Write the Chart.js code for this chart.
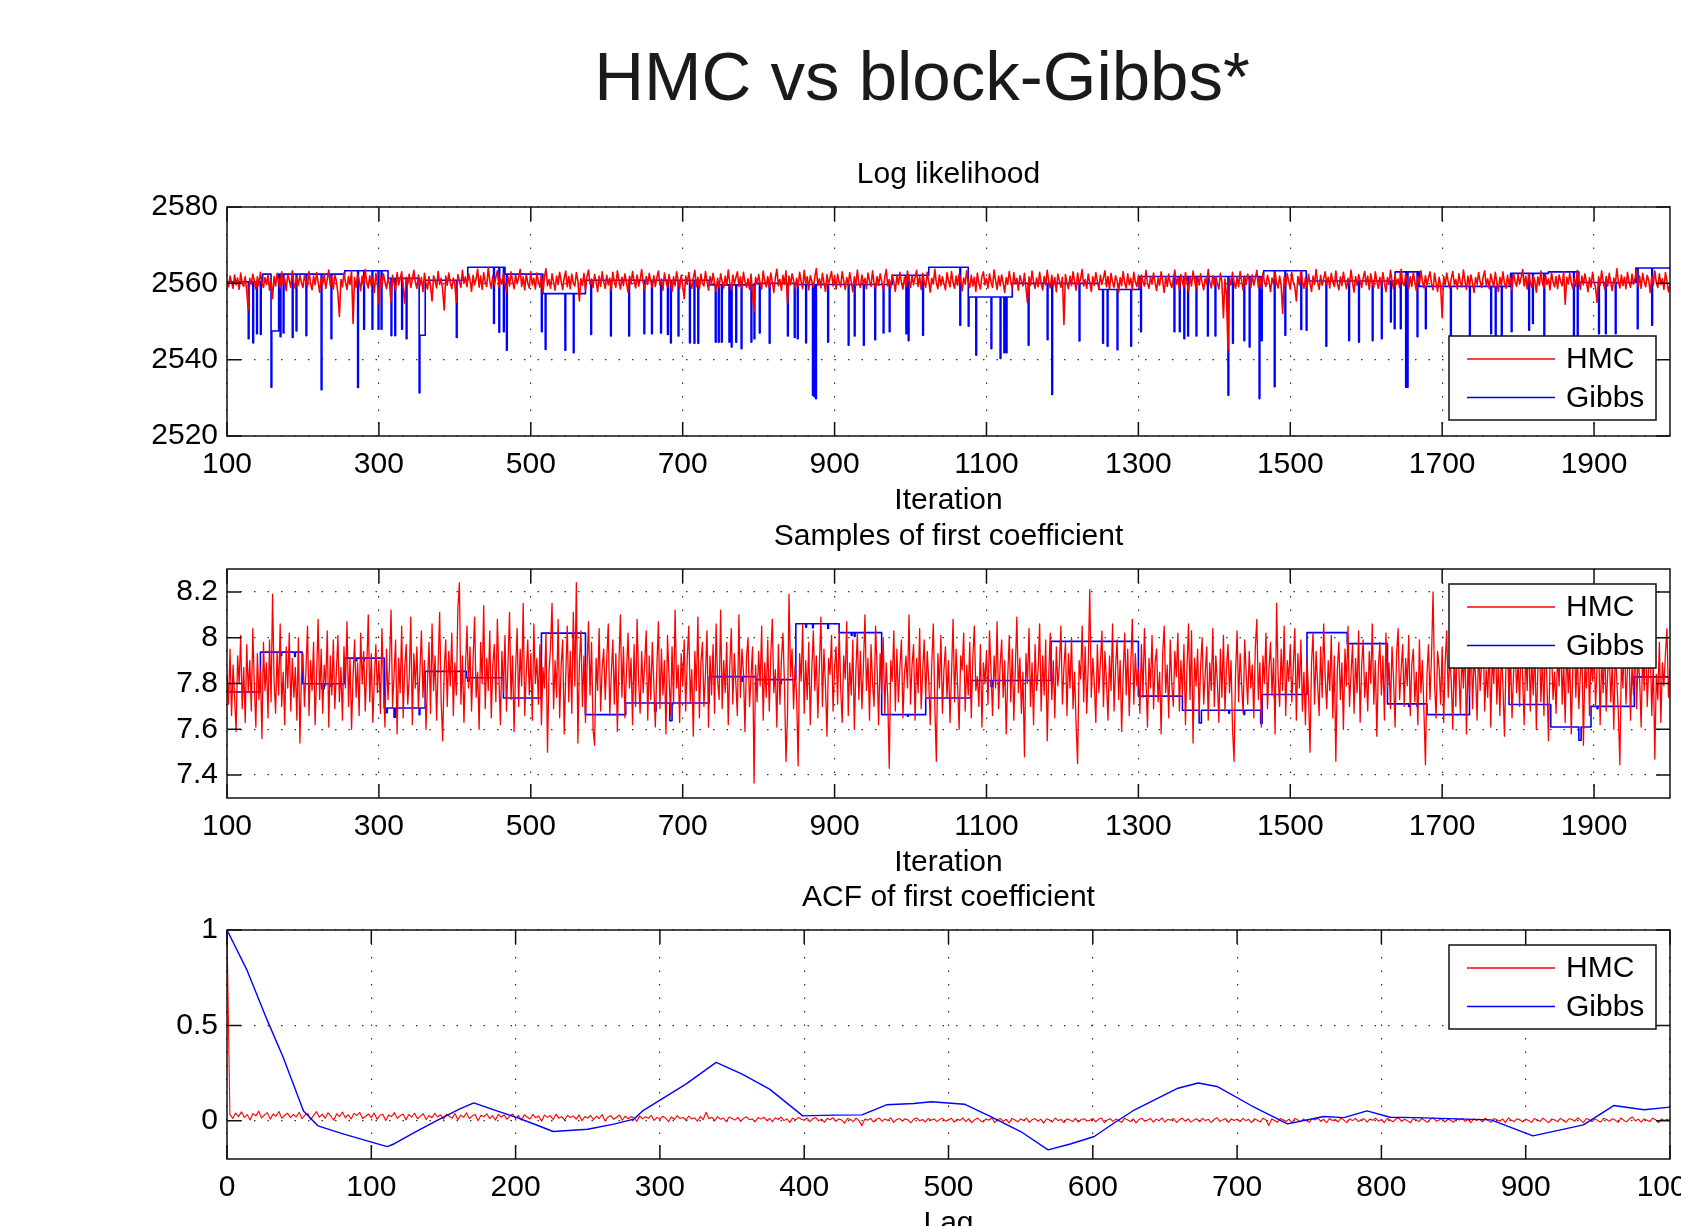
<!DOCTYPE html>
<html>
<head>
<meta charset="utf-8">
<script src="https://cdn.jsdelivr.net/npm/chart.js@4.4.1/dist/chart.umd.min.js"></script>
<style>
html,body{margin:0;padding:0;background:#fff;width:1681px;height:1226px;overflow:hidden;}
#title{position:absolute;left:922px;top:42px;transform:translateX(-50%);white-space:nowrap;font-family:'Liberation Sans',Arial,Helvetica,sans-serif;font-size:69px;line-height:69px;color:#1a1a1a;}
canvas{position:absolute;left:0;}
</style>
</head>
<body>
<div id="title">HMC vs block-Gibbs*</div>
<canvas id="c1" width="1681" height="372" style="top:147px;width:1681px;height:372px"></canvas>
<canvas id="c2" width="1681" height="372" style="top:509px;width:1681px;height:372px"></canvas>
<canvas id="c3" width="1681" height="372" style="top:870px;width:1681px;height:372px"></canvas>
<script>
// ---------------- tick labels ----------------
const iterTicks = [100, 300, 500, 700, 900, 1100, 1300, 1500, 1700, 1900];
const llTicks = [2520, 2540, 2560, 2580];
const coefTicks = [7.4, 7.6, 7.8, 8, 8.2];
const lagTicks = [0, 100, 200, 300, 400, 500, 600, 700, 800, 900, 1000];
const acfTicks = [0, 0.5, 1];

const seriesNames = ['HMC', 'Gibbs'];

// ---------------- HMC log likelihood (iterations 100..2000, every 2) ----------------
const HMC_START = 100, HMC_STEP = 2;
const llHmc = [
2560.4,2559.1,2561.9,2560.3,2558.7,2562.2,2559.6,2561.4,2558.4,2562.7,2560.0,2559.2,2561.8,2557.9,2553.0,2561.3,2559.8,2562.4,2560.6,2558.5,2561.7,2559.4,2562.9,2560.2,2558.9,
2561.5,2559.7,2562.3,2558.2,2560.9,2556.0,2561.8,2559.3,2562.6,2560.4,2558.8,2563.0,2559.9,2561.2,2558.1,2562.5,2560.7,2559.0,2563.3,2560.1,2558.6,2561.6,2559.5,2562.1,2560.3,
2558.9,2562.0,2560.5,2559.2,2563.1,2560.0,2558.3,2561.9,2559.6,2562.8,2560.2,2557.7,2561.4,2559.8,2562.4,2558.7,2561.1,2563.5,2559.4,2561.7,2558.5,2562.2,2560.6,2557.4,2551.3,
2561.0,2559.1,2562.7,2560.3,2558.4,2561.8,2559.7,2563.2,2549.5,2561.5,2559.0,2562.3,2560.8,2558.1,2561.9,2559.5,2563.6,2560.2,2558.8,2562.0,2559.3,2561.4,2557.6,2562.6,2560.1,
2554.5,2561.7,2559.2,2562.5,2560.4,2558.6,2561.3,2559.9,2555.0,2562.1,2560.0,2558.3,2562.8,2559.6,2561.2,2563.0,2559.1,2554.8,2561.6,2559.8,2562.4,2558.9,2561.0,2563.4,2560.3,
2558.7,2562.2,2559.4,2561.5,2557.8,2562.6,2560.1,2558.5,2561.8,2559.3,2555.4,2562.0,2560.6,2558.8,2563.1,2559.7,2561.3,2558.2,2553.0,2561.9,2559.5,2562.7,2560.2,2558.6,2561.4,
2559.8,2555.0,2562.3,2560.5,2558.9,2563.4,2560.0,2561.7,2559.1,2562.5,2560.8,2557.9,2562.1,2559.6,2561.2,2563.7,2559.0,2561.9,2558.4,2562.8,2560.3,2559.2,2564.1,2560.6,2558.7,
2562.0,2559.5,2561.6,2563.3,2558.9,2561.1,2559.8,2562.6,2560.2,2557.6,2561.8,2559.3,2563.0,2560.5,2558.6,2562.3,2559.9,2561.4,2563.6,2559.2,2561.7,2558.3,2562.4,2560.1,2558.8,
2563.1,2559.6,2561.3,2558.5,2562.7,2560.4,2559.0,2562.2,2557.5,2561.6,2563.8,2559.4,2561.0,2558.7,2562.5,2560.3,2558.2,2561.9,2559.7,2562.9,2560.6,2558.4,2561.5,2563.2,2559.1,
2561.8,2558.6,2562.4,2560.0,2559.3,2562.8,2560.7,2555.4,2561.2,2559.5,2562.6,2558.3,2561.7,2563.5,2559.8,2561.1,2558.9,2562.3,2560.5,2557.8,2561.9,2559.2,2563.0,2560.4,2558.7,
2562.1,2559.6,2561.4,2558.1,2562.9,2560.3,2559.0,2563.3,2560.8,2558.5,2561.6,2559.4,2562.5,2560.1,2557.7,2561.9,2559.8,2563.1,2560.6,2558.8,2562.2,2559.3,2561.0,2563.6,2560.2,
2558.4,2561.8,2559.7,2562.6,2560.4,2558.9,2562.0,2559.2,2561.5,2563.2,2559.6,2561.1,2558.2,2562.7,2560.5,2559.0,2562.3,2560.0,2557.9,2561.7,2559.4,2563.0,2560.7,2558.6,2562.1,
2559.5,2556.0,2561.9,2559.8,2562.8,2560.3,2558.7,2561.4,2563.4,2559.1,2561.6,2558.5,2562.4,2560.0,2559.3,2563.1,2560.6,2558.2,2561.8,2559.7,2562.6,2560.2,2557.8,2561.3,2559.0,
2562.5,2560.4,2558.8,2561.9,2559.5,2563.5,2560.1,2558.3,2562.2,2559.9,2561.5,2563.0,2559.2,2561.7,2558.6,2562.9,2560.5,2559.0,2561.2,2558.4,2562.4,2556.9,2552.6,2561.6,2559.8,
2562.3,2560.0,2558.5,2563.2,2560.6,2559.1,2561.8,2558.9,2562.7,2560.3,2557.6,2561.5,2563.7,2559.4,2561.0,2558.2,2562.1,2559.7,2563.3,2554.8,2561.9,2559.6,2562.5,2560.8,2558.7,
2561.3,2559.2,2562.9,2560.4,2558.6,2563.4,2559.9,2561.7,2558.3,2562.0,2560.5,2559.0,2561.6,2563.9,2559.5,2561.2,2558.8,2562.6,2560.1,2557.9,2562.3,2559.8,2561.4,2563.1,2559.3,
2561.9,2558.5,2562.4,2560.2,2559.1,2563.0,2560.7,2558.4,2561.5,2559.6,2562.8,2560.3,2557.8,2561.7,2559.4,2563.5,2560.0,2558.9,2562.2,2559.7,2561.3,2558.6,2562.7,2560.5,2559.2,
2563.3,2560.1,2558.7,2561.8,2559.5,2562.5,2560.6,2558.2,2561.4,2563.6,2559.3,2561.0,2558.8,2562.3,2560.4,2557.9,2561.9,2559.7,2562.9,2560.2,2558.5,2561.6,2559.1,2563.2,2560.8,
2558.9,2562.0,2559.6,2561.5,2563.4,2559.2,2561.8,2558.4,2562.6,2560.3,2559.0,2562.9,2560.5,2557.7,2561.3,2559.8,2563.7,2560.1,2558.6,2562.2,2559.4,2561.7,2560.0,2558.3,2562.8,
2560.6,2559.1,2563.1,2560.2,2558.7,2561.9,2559.5,2562.4,2560.9,2558.1,2561.4,2559.8,2563.3,2560.4,2558.9,2562.1,2559.3,2561.6,2557.9,2562.7,2560.0,2558.5,2561.8,2563.0,2559.6,
2561.2,2558.8,2562.5,2560.3,2559.0,2563.5,2560.7,2558.4,2561.9,2559.4,2562.2,2560.1,2557.6,2561.5,2559.7,2563.1,2560.5,2558.6,2562.8,2559.9,2561.3,2558.2,2562.0,2560.6,2559.3,
2562.6,2558.9,2554.9,2561.7,2559.5,2563.2,2560.3,2558.7,2561.4,2559.1,2562.9,2560.0,2558.3,2561.8,2559.6,2563.4,2560.4,2558.8,2562.1,2559.2,2561.5,2557.8,2562.4,2560.7,2559.0,
2561.6,2549.2,2562.3,2560.1,2558.6,2561.9,2559.4,2563.0,2560.5,2558.2,2562.7,2559.8,2561.2,2563.6,2559.3,2561.0,2558.7,2562.4,2560.2,2557.9,2561.7,2559.5,2562.8,2560.6,2558.4,
2562.1,2559.7,2561.4,2563.3,2559.1,2561.8,2558.5,2562.6,2560.3,2559.0,2562.0,2560.7,2557.7,2561.5,2559.4,2563.1,2560.0,2558.8,2562.5,2559.6,2561.3,2558.3,2562.9,2560.4,2559.2,
2561.9,2558.6,2562.2,2560.5,2559.3,2563.4,2560.1,2558.7,2561.6,2559.8,2562.7,2560.2,2558.1,2561.4,2559.5,2563.0,2560.6,2557.6,2561.8,2559.2,2562.4,2560.0,2558.9,2561.2,2563.5,
2559.7,2561.5,2558.4,2562.3,2560.2,2559.0,2562.8,2560.4,2557.9,2561.7,2559.3,2563.2,2560.7,2558.6,2561.9,2559.6,2562.5,2560.1,2558.3,2561.3,2559.8,2563.6,2560.3,2558.8,2562.0,
2559.4,2561.8,2560.0,2558.5,2562.6,2560.4,2551.0,2561.2,2556.8,2542.5,2561.5,2559.6,2562.9,2560.2,2558.7,2561.7,2559.1,2563.1,2560.5,2558.2,2561.9,2559.7,2562.4,2560.8,2558.9,
2562.2,2559.5,2561.3,2563.4,2559.0,2561.6,2558.6,2562.7,2560.3,2559.2,2562.1,2560.6,2557.8,2561.4,2559.8,2563.0,2560.1,2558.8,2561.9,2559.4,2552.1,2561.7,2559.3,2562.5,2560.4,
2558.5,2562.8,2560.2,2559.1,2555.4,2561.8,2559.6,2563.3,2560.5,2558.7,2561.5,2559.0,2562.4,2560.0,2557.9,2561.9,2559.7,2563.6,2560.3,2558.4,2562.1,2559.5,2561.2,2563.0,2559.8,
2561.6,2558.8,2562.6,2560.4,2559.2,2563.2,2560.0,2558.3,2561.7,2559.4,2562.9,2560.6,2558.6,2561.3,2559.9,2563.5,2560.2,2557.7,2561.8,2559.5,2562.3,2560.7,2558.9,2561.4,2563.1,
2559.6,2561.9,2558.4,2562.5,2560.3,2559.0,2563.0,2560.5,2558.7,2561.6,2559.3,2562.8,2560.1,2557.8,2561.5,2559.7,2563.4,2560.4,2558.5,2562.2,2559.8,2561.1,2558.9,2563.7,2560.2,
2559.4,2562.4,2560.8,2558.6,2561.7,2559.2,2562.9,2560.3,2558.1,2561.8,2559.6,2563.3,2560.6,2558.8,2562.0,2559.5,2561.4,2563.0,2559.9,2558.3,2562.6,2560.1,2557.9,2561.6,2559.3,
2551.0,2561.8,2559.6,2562.7,2560.4,2558.7,2561.3,2563.1,2559.7,2561.0,2558.5,2562.5,2560.2,2559.1,2563.5,2560.6,2558.4,2561.9,2559.3,2562.2,2560.0,2557.6,2561.5,2559.8,2562.8,
2560.4,2558.9,2561.7,2563.3,2559.5,2561.2,2558.6,2562.4,2560.7,2559.0,2562.9,2560.3,2557.9,2561.6,2559.4,2563.0,2560.1,2558.7,2562.1,2559.6,2561.4,2558.2,2562.7,2560.5,2559.2,
2562.3,2559.8,2561.5,2563.6,2559.3,2561.9,2558.5,2562.6,2560.2,2559.0,2562.0,2560.6,2557.7,2561.7,2559.5,2563.2,2560.0,2558.8,2562.4,2559.7,2561.1,2558.3,2562.8,2560.4,2559.1,
2561.8,2558.6,2562.2,2560.5,2559.4,2563.1,2554.5,2561.6,2559.8,2562.7,2560.1,2558.7,2561.3,2559.2,2563.4,2560.6,2558.4,2561.9,2559.6,2562.5,2560.3,2557.8,2561.5,2559.0,2562.9,
2560.2,2558.9,2555.0,2561.7,2559.5,2563.3,2560.4,2558.5,2561.8,2559.3,2562.6,2560.0,2558.1,2561.4,2559.7,2563.8,2560.5,2558.8,2562.2,2559.4,2561.6,2558.6,2562.9,2560.3,2559.0,
2562.4,2559.8,2561.3,2563.6,2559.2,2561.9,2558.7,2562.6,2560.4,2559.1,2562.1,2560.7,2557.6,2561.7,2559.5,2563.2,2560.2,2558.9,2562.5,2559.7,2561.2,2558.4,2562.8,2560.6,2557.8,
2559.6
];

// ---------------- Gibbs log likelihood: held levels [iteration, value] and one-step drops ----------------
const gibbsLLLevels = [
[100,2560.4],[147,2562.4],[159,2547.5],[168,2562.4],[255,2563.3],[312,2561.3],[354,2546.4],[361,2560.8],
[417,2564.2],[466,2562.4],[516,2557.3],[572,2560.8],[735,2559.6],[795,2560.0],[850,2559.7],[976,2562.1],
[1024,2564.2],[1077,2556.4],[1134,2560.0],[1248,2558.4],[1301,2561.8],[1465,2563.3],[1522,2560.6],
[1638,2563.0],[1670,2559.2],[1790,2562.6],[1840,2563.0],[1880,2560.2],[1955,2564.0],[2000,2564.0]
];
const gibbsLLDrops = [
[128,2545.5],[134,2544.4],[139,2546.8],[144,2546.6],[158,2532.8],[170,2546.0],[174,2547.0],[186,2545.8],[191,2547.5],
[204,2546.3],[224,2532.1],[237,2545.5],[272,2532.7],[280,2548.0],[291,2548.0],[299,2548.0],[303,2548.0],[316,2546.3],
[321,2546.3],[330,2548.0],[336,2545.5],[353,2531.3],[402,2545.8],[451,2549.5],[458,2547.2],[464,2547.3],[468,2542.5],
[514,2547.3],[519,2542.7],[545,2542.5],[556,2541.8],[579,2546.6],[605,2546.2],[629,2546.2],[649,2546.8],[659,2546.8],
[671,2547.0],[680,2546.6],[684,2544.4],[694,2546.2],[709,2544.4],[715,2544.3],[720,2544.3],[743,2544.6],[747,2544.6],
[751,2544.6],[761,2544.6],[764,2543.3],[770,2544.6],[777,2542.9],[790,2544.6],[794,2545.5],[801,2547.0],[814,2544.3],
[838,2546.2],[847,2545.8],[851,2545.5],[862,2544.4],[871,2530.7],[873,2530.3],[875,2529.8],[891,2544.6],[918,2543.8],
[926,2546.2],[938,2543.8],[953,2545.2],[964,2547.0],[972,2547.3],[994,2546.8],[997,2545.0],[1016,2546.4],[1065,2549.0],
[1076,2548.8],[1086,2541.2],[1106,2542.9],[1118,2540.3],[1123,2541.8],[1126,2541.8],[1155,2543.8],[1180,2545.2],
[1186,2530.9],[1222,2544.9],[1253,2544.3],[1259,2543.5],[1272,2542.6],[1290,2543.5],[1303,2547.3],[1347,2547.3],
[1354,2547.3],[1360,2545.5],[1365,2546.2],[1376,2546.2],[1391,2546.2],[1401,2546.2],[1418,2530.7],[1424,2544.3],
[1439,2545.0],[1446,2543.3],[1459,2529.8],[1462,2545.0],[1479,2532.9],[1493,2546.4],[1514,2547.9],[1521,2547.7],
[1547,2543.5],[1577,2545.0],[1590,2544.6],[1608,2545.0],[1620,2545.5],[1632,2549.9],[1637,2548.1],[1645,2548.1],
[1652,2532.8],[1654,2532.8],[1667,2546.0],[1678,2548.1],[1711,2546.0],[1736,2546.4],[1764,2546.8],[1770,2545.0],
[1778,2546.0],[1791,2547.3],[1814,2547.7],[1819,2549.5],[1834,2546.4],[1873,2546.0],[1878,2545.0],[1906,2546.8],
[1915,2546.8],[1928,2546.8],[1957,2548.1],[1976,2549.0]
];

// ---------------- HMC first coefficient (iterations 100..2000, every 2) ----------------
const coefHmc = [
7.84,7.71,7.95,7.66,7.88,7.74,7.59,7.92,7.80,8.01,7.69,7.87,7.63,7.97,7.76,7.90,7.68,8.04,7.79,7.61,7.93,7.73,7.86,7.56,7.98,
7.77,7.89,7.65,7.99,7.72,8.19,7.81,7.67,7.94,7.75,8.06,7.70,7.85,7.62,7.96,7.78,8.02,7.68,7.91,7.74,7.87,7.64,8.00,7.54,7.83,
7.93,7.70,7.86,8.05,7.66,7.90,7.77,7.98,7.62,7.84,8.08,7.73,7.95,7.67,7.88,7.79,8.03,7.61,7.92,7.75,7.99,7.69,7.85,8.01,7.72,
7.87,7.64,7.96,7.78,8.07,7.70,7.91,7.60,7.83,7.99,7.74,7.89,7.66,8.02,7.80,7.94,7.68,7.86,8.10,7.72,7.93,7.63,7.82,7.97,7.76,
7.90,7.67,8.04,7.79,7.61,7.95,7.73,7.88,8.12,7.70,7.84,7.99,7.58,7.91,7.76,8.05,7.65,7.87,7.97,7.71,7.83,8.09,7.62,7.93,7.78,
7.96,7.69,7.85,8.03,7.74,7.90,7.60,7.81,7.98,7.67,8.06,7.77,7.92,7.64,7.88,8.11,7.72,7.55,7.86,7.99,7.70,7.94,7.79,8.02,7.66,
7.89,7.75,8.13,8.24,7.71,7.92,7.63,7.87,8.05,7.78,7.96,7.68,7.90,8.09,7.74,7.85,7.60,7.98,7.80,8.14,7.69,7.91,7.77,8.03,7.65,
7.88,7.97,7.72,8.08,7.83,7.62,7.94,7.76,8.01,7.68,7.89,8.11,7.73,7.92,7.59,7.86,8.04,7.70,7.95,7.79,8.15,7.66,7.84,7.99,7.75,
7.93,7.64,8.06,7.80,7.91,7.71,7.97,7.62,7.87,7.78,8.02,7.50,7.85,7.96,8.15,7.69,7.90,7.74,8.08,7.65,7.88,7.99,7.58,7.83,8.05,
7.72,7.94,7.67,8.11,7.79,8.24,7.54,7.89,8.03,7.70,7.92,7.63,7.86,8.07,7.75,7.98,7.60,7.53,7.91,7.77,8.04,7.68,7.87,7.95,7.73,
7.90,8.06,7.66,7.84,7.99,7.71,7.93,7.59,7.88,8.10,7.74,7.96,7.65,7.85,8.02,7.78,7.91,7.62,7.97,7.70,8.08,7.81,7.67,7.94,7.76,
7.89,8.03,7.64,7.92,7.73,7.98,7.80,7.61,7.87,8.07,7.69,7.95,7.75,7.90,7.58,8.01,7.83,7.66,7.96,7.71,8.12,7.78,7.88,7.63,7.93,
7.79,7.99,7.68,7.91,8.05,7.72,7.86,7.57,7.94,7.77,8.09,7.65,7.89,7.98,7.70,7.84,8.03,7.61,7.92,7.75,7.97,7.67,8.06,7.81,7.73,
8.12,7.69,7.90,7.76,7.98,7.62,7.87,8.04,7.71,7.93,7.80,7.66,8.10,7.74,7.95,7.85,7.59,7.91,8.00,7.70,7.83,7.96,7.365,7.88,7.72,
7.94,7.79,8.05,7.64,7.89,7.74,7.99,7.68,7.92,8.08,7.76,7.86,7.61,7.97,7.71,7.90,8.02,7.80,7.46,7.66,8.19,7.83,7.95,7.69,7.88,
7.75,7.44,7.93,7.81,8.06,7.67,7.90,7.73,7.98,7.62,7.86,8.03,7.77,7.92,7.65,7.88,8.09,7.70,7.95,7.79,7.57,7.91,7.84,8.01,7.68,
7.87,7.96,7.71,8.04,7.78,7.63,7.92,7.82,8.07,7.66,7.89,7.75,7.99,7.60,7.85,8.02,7.73,7.94,7.69,7.88,8.10,7.77,7.91,7.64,7.97,
7.80,7.70,8.05,7.86,7.62,7.93,7.76,8.00,7.67,7.89,7.74,7.43,7.90,7.81,8.03,7.68,7.95,7.72,7.87,7.99,7.65,7.84,7.92,7.78,8.10,
7.71,7.88,7.97,7.64,7.91,7.76,8.04,7.69,7.85,7.99,7.73,7.94,7.81,7.62,7.89,8.06,7.70,7.46,7.93,7.78,8.01,7.67,7.86,7.96,7.74,
7.90,7.63,7.84,8.08,7.72,7.95,7.79,7.60,7.92,7.86,8.02,7.68,7.88,7.75,7.98,7.65,7.91,8.05,7.77,7.83,7.70,7.97,7.61,7.89,7.80,
7.94,7.71,8.03,7.85,7.66,7.92,7.78,8.07,7.69,7.88,7.99,7.74,7.90,7.58,7.83,8.01,7.72,7.95,7.64,7.87,8.09,7.76,7.91,7.67,7.85,
7.48,7.93,7.80,8.04,7.70,7.89,7.62,7.97,7.77,7.86,8.06,7.68,7.92,7.75,7.99,7.55,7.84,8.02,7.73,7.90,7.65,7.96,7.79,7.88,8.05,
7.71,7.87,7.98,7.66,7.93,7.78,8.00,7.69,7.85,7.62,7.45,7.90,7.82,8.05,7.72,7.96,7.67,7.88,8.21,7.74,7.91,7.80,7.63,7.97,7.76,
7.89,8.03,7.70,7.94,7.81,7.64,7.92,7.77,8.06,7.68,7.87,7.99,7.73,7.90,7.59,7.84,8.02,7.75,7.95,7.66,7.88,8.08,7.71,7.93,7.79,
7.86,7.67,7.97,7.74,8.04,7.82,7.61,7.91,7.78,8.01,7.69,7.89,7.95,7.72,7.85,7.58,7.93,8.05,7.76,7.88,7.65,7.99,7.80,7.70,7.94,
7.83,8.02,7.68,7.90,7.75,7.97,7.62,7.87,8.06,7.73,8.03,7.54,7.91,7.79,7.95,7.66,7.88,8.00,7.71,7.84,7.96,7.64,7.89,7.77,8.04,
7.70,7.92,7.81,7.63,7.95,7.74,8.01,7.68,7.87,7.97,7.76,7.90,7.60,7.46,7.85,8.03,7.72,7.93,7.79,7.67,7.99,7.84,7.71,7.94,7.78,
7.88,7.65,7.96,8.08,7.73,7.89,7.61,7.92,7.80,8.02,7.69,7.86,7.98,7.75,7.91,7.58,8.15,7.83,7.70,7.95,7.77,8.05,7.66,7.90,7.81,
7.97,7.72,7.87,8.04,7.64,7.93,7.78,7.99,7.68,7.85,7.62,7.91,7.76,7.50,7.89,8.02,7.71,7.94,7.80,7.66,7.96,7.74,8.06,7.83,7.69,
7.90,7.77,8.01,7.65,7.92,7.46,7.86,7.98,7.73,7.89,7.60,7.95,7.79,8.05,7.70,7.84,7.97,7.67,7.91,7.76,8.03,7.63,7.88,7.99,7.74,
7.85,7.68,7.94,7.80,8.06,7.71,7.90,7.57,7.87,7.98,7.75,7.92,7.64,8.02,7.78,7.89,7.69,7.96,7.82,7.61,7.93,8.04,7.73,7.86,7.97,
7.70,7.91,7.79,8.01,7.66,7.88,7.95,7.72,7.85,7.62,7.99,7.76,7.90,7.68,7.445,7.84,7.97,7.73,7.92,8.20,7.80,7.65,7.94,7.87,7.71,
7.96,7.63,7.89,8.03,7.74,7.92,7.81,7.60,7.95,7.70,8.07,7.86,7.67,7.93,7.78,7.99,7.58,7.88,7.75,8.04,7.69,7.91,7.83,7.64,7.97,
7.77,7.90,8.02,7.68,7.86,7.74,7.98,7.61,7.92,7.80,8.05,7.71,7.89,7.66,7.95,7.79,7.57,7.87,8.01,7.73,7.93,7.65,7.84,7.99,7.76,
7.89,7.70,8.03,7.82,7.62,7.94,7.77,8.06,7.68,7.90,7.75,7.97,7.60,7.86,7.99,7.72,7.92,7.66,8.04,7.80,7.55,7.88,7.96,7.73,7.85,
7.67,7.94,7.79,8.07,7.71,7.89,7.63,7.98,7.76,7.91,7.58,7.86,8.02,7.74,7.93,7.69,7.84,7.97,7.53,7.88,7.78,8.01,7.66,7.92,7.81,
7.95,7.70,7.87,8.00,7.62,7.91,7.76,7.98,7.68,7.85,7.94,7.72,7.89,7.60,7.96,7.81,7.67,7.445,7.90,7.78,8.03,7.71,7.86,7.97,7.64,
7.88,7.75,7.99,7.69,7.92,7.82,7.61,7.94,7.77,8.05,7.70,7.87,7.96,7.66,7.90,7.47,7.84,7.73,7.98,7.63,7.89,7.79,7.93,8.04,7.74,
7.86
];

// ---------------- Gibbs first coefficient: held levels and short dips [iteration, value, length] ----------------
const gibbsCoefLevels = [
[100,7.763],[144,7.937],[199,7.799],[255,7.911],[307,7.693],[361,7.853],[415,7.825],[464,7.737],[514,8.020],
[572,7.664],[625,7.715],[735,7.830],[796,7.817],[849,8.061],[906,8.022],[962,7.664],[1020,7.737],[1079,7.813],
[1185,7.984],[1300,7.745],[1358,7.683],[1463,7.752],[1522,8.022],[1575,7.974],[1628,7.711],[1680,7.664],
[1736,7.960],[1788,7.708],[1843,7.610],[1896,7.700],[1953,7.829],[2000,7.829]
];
const gibbsCoefDips = [
[171,7.922,1],[189,7.918,1],[225,7.777,3],[237,7.787,1],[270,7.899,1],[280,7.899,1],[309,7.672,2],[320,7.653,2],
[353,7.664,1],[417,7.810,2],[555,8.000,1],[663,7.680,2],[683,7.638,3],[778,7.810,1],[829,7.800,1],[862,8.046,1],
[871,8.043,1],[891,8.040,1],[922,8.010,1],[926,8.005,1],[996,7.657,1],[1106,7.786,2],[1123,7.795,1],[1380,7.628,3],
[1419,7.670,1],[1439,7.665,1],[1461,7.626,2],[1479,7.740,1],[1656,7.700,1],[1667,7.700,1],[1880,7.552,3],[1904,7.690,1]
];

// ---------------- ACF of first coefficient ----------------
const ACF_STEP = 2;  // HMC acf at lags 0,2,4,...,1000
const acfHmc = [
1,.035,.012,.041,.022,.047,.018,.033,.004,.038,.026,.051,.015,.031,.043,.009,.036,.024,.049,.013,.029,.040,.017,.034,.021,
.045,.011,.030,.038,.006,.027,.048,.019,.035,.014,.042,.025,.003,.037,.022,.046,.016,.032,.010,.039,.028,.044,.012,.024,.036,
.017,.041,.008,.029,.034,.002,.031,.022,.043,.013,.027,.036,.005,.033,.019,.040,.011,.025,.037,.007,.028,.016,.039,.020,.032,
.009,.035,.024,.014,.038,.006,.030,.018,.042,.011,.026,.033,.001,.029,.021,.037,.012,.027,.004,.034,.019,.031,.008,.025,.036,
.013,.028,.003,.032,.020,.010,.034,.016,.025,-.002,.030,.018,.027,.007,.035,.014,.022,.004,.029,.017,.026,.009,.031,.001,.023,
.015,.028,.006,.024,.012,.033,-.001,.020,.027,.008,.019,.030,.003,.025,.011,.022,.016,-.003,.026,.010,.021,.013,.029,.002,.018,
.009,.024,.014,-.004,.021,.007,.027,.012,.018,.003,.025,.010,.016,-.002,.023,.006,.045,.011,.019,.001,.022,.008,.015,-.005,.020,
.012,.004,.018,-.003,.014,.021,.006,.010,-.006,.017,.009,.019,.002,.013,-.004,.016,.007,.020,.001,.011,-.008,.014,.005,.018,.008,
.003,.015,-.005,.011,.017,.000,.009,-.007,.013,.006,.016,-.002,.010,.004,-.012,.012,.007,-.004,.014,.001,-.025,.009,.003,.013,-.006,
.008,.014,-.003,.010,.002,.016,-.008,.006,.012,-.001,.011,.004,-.010,.009,.015,.000,.007,-.006,.013,.003,.010,-.004,.008,.012,-.002,
.006,.013,-.007,.009,.002,.015,-.004,.011,-.010,.005,.014,.001,-.006,.010,.003,.016,-.009,.007,.012,-.003,.008,-.011,.013,.004,-.005,
.010,.002,.014,-.008,.006,.012,-.002,.009,-.012,.011,.004,-.006,.015,.001,.008,-.009,.010,.005,-.004,.013,-.007,.007,.011,-.001,.003,
.012,-.005,.008,.015,-.010,.004,.011,-.003,.009,.002,-.008,.014,.006,-.004,.010,-.011,.007,.013,-.002,.005,.012,-.007,.009,.001,.015,
-.006,.008,.003,.012,-.009,.006,.014,-.002,.010,-.007,.004,.011,-.005,.013,.001,.009,-.010,.007,.016,-.003,.005,.012,-.008,.010,.002,
.009,-.004,.013,.001,.008,-.009,.011,.003,-.006,.014,.005,-.025,.010,.002,-.007,.012,.006,-.003,.009,-.011,.013,.004,-.005,.010,.001,
-.008,.011,.005,.014,-.003,.008,-.010,.012,.002,.007,-.006,.015,.004,-.009,.010,.001,.013,-.004,.006,.011,-.007,.009,.003,.014,-.002,
.007,-.009,.012,.004,-.005,.010,.015,-.003,.008,.001,-.011,.011,.006,-.004,.013,.002,-.008,.009,.016,-.002,.005,.012,-.006,.008,.003,
-.007,.010,.004,.013,-.003,.007,-.010,.011,.002,.009,-.005,.014,.001,-.008,.012,.006,-.002,.010,-.009,.015,.003,-.004,.011,.005,-.006,
.009,.002,-.008,.012,.006,-.003,.014,.001,-.010,.010,.005,-.005,.013,.003,-.007,.011,.008,-.002,.016,.004,-.009,.012,.006,-.004,.010,
.001,-.006,.013,.007,-.003,.011,.004,-.008,.015,.002,-.005,.012,.020,-.001,.009,-.007,.010,.003,-.004,.014,.006,-.009,.011,.002,.008,
-.002
];
const acfGibbsLags = [0,14,28,39,53,63,81,111,116,130,145,161,171,186,201,215,226,250,268,282,288,318,339,357,376,399,420,440,457,476,
488,511,530,550,569,585,601,615,629,659,673,686,710,735,760,774,790,806,823,876,905,940,961,982,1000];
const acfGibbsVals = [1,.787,.525,.332,.052,-.026,-.07,-.135,-.12,-.06,0,.061,.094,.055,.017,-.023,-.056,-.044,-.017,.009,.052,.192,.306,.245,.166,.026,.03,.031,.084,.091,
.10,.087,.02,-.056,-.152,-.12,-.082,-.01,.058,.171,.198,.18,.079,-.016,.023,.017,.052,.019,.017,.005,-.079,-.021,.08,.058,.072];

// ---------------- helpers ----------------
const FONT = "'Liberation Sans', Arial, Helvetica, sans-serif";
Chart.defaults.font.family = FONT;
Chart.defaults.font.size = 30;
Chart.defaults.color = '#000';

function evenSeries(vals, start, step) {
  return vals.map((y, i) => ({x: start + i * step, y}));
}
function pairSeries(xs, ys) {
  return xs.map((x, i) => ({x, y: ys[i]}));
}
function heldSeries(levels, drops) {
  const levelAt = x => { let v = levels[0][1]; for (const l of levels) { if (l[0] <= x) v = l[1]; } return v; };
  const pts = levels.map(l => ({x: l[0], y: l[1]}));
  drops.forEach(d => {
    const w = d[2] || 1;
    pts.push({x: d[0], y: d[1]});
    pts.push({x: d[0] + w, y: levelAt(d[0] + w)});
  });
  pts.sort((a, b) => a.x - b.x);
  return pts;
}

const matlabAxes = {
  id: 'matlabAxes',
  afterDatasetsDraw(chart, args, opts) {
    const {ctx, chartArea: a, scales} = chart;
    ctx.save();
    ctx.strokeStyle = '#111';
    ctx.lineWidth = 1.5;
    const L = 14;
    ctx.beginPath();
    scales.x.ticks.forEach(t => {
      const px = scales.x.getPixelForValue(t.value);
      ctx.moveTo(px, a.bottom); ctx.lineTo(px, a.bottom - L);
      ctx.moveTo(px, a.top); ctx.lineTo(px, a.top + L);
    });
    scales.y.ticks.forEach(t => {
      const py = scales.y.getPixelForValue(t.value);
      ctx.moveTo(a.left, py); ctx.lineTo(a.left + L, py);
      ctx.moveTo(a.right, py); ctx.lineTo(a.right - L, py);
    });
    ctx.stroke();
    ctx.strokeRect(a.left, a.top, a.right - a.left, a.bottom - a.top);

    // legend box (inside axes)
    const bw = 207, bh = 84;
    const bx = a.right - 14 - bw;
    const by = opts.legendAt === 'bottom' ? a.bottom - 16 - bh : a.top + 15;
    ctx.fillStyle = '#fff';
    ctx.fillRect(bx, by, bw, bh);
    ctx.strokeStyle = '#111';
    ctx.lineWidth = 1.5;
    ctx.strokeRect(bx, by, bw, bh);
    ctx.font = '30px ' + FONT;
    ctx.textBaseline = 'middle';
    ctx.textAlign = 'left';
    chart.data.datasets.forEach((ds, i) => {
      const y = by + 23 + i * 38.5;
      ctx.strokeStyle = ds.borderColor;
      ctx.lineWidth = 1.5;
      ctx.beginPath(); ctx.moveTo(bx + 18, y); ctx.lineTo(bx + 106, y); ctx.stroke();
      ctx.fillStyle = '#000';
      ctx.fillText(ds.label, bx + 117, y + 1);
    });
    ctx.restore();
  }
};

function makeChart(id, cfg) {
  const xScale = {
    type: 'linear', min: cfg.xMin, max: cfg.xMax,
    afterBuildTicks: s => { s.ticks = cfg.xTicks.map(v => ({value: v})); },
    afterFit: s => { s.height = 83; s.paddingLeft = 0; s.paddingRight = 0; },
    grid: {color: '#333', lineWidth: 1.2, drawTicks: false, borderDash: [1.5, 12]},
    border: {display: false, dash: [1.5, 12]},
    ticks: {padding: 11, maxRotation: 0, minRotation: 0, autoSkip: false, color: '#000', font: {size: 30},
            callback: v => String(v)},
    title: {display: true, text: cfg.xTitle, color: '#000', font: {size: 30}, padding: {top: 0, bottom: 0}}
  };
  const yScale = {
    type: 'linear', min: cfg.yMin, max: cfg.yMax,
    afterBuildTicks: s => { s.ticks = cfg.yTicks.map(v => ({value: v})); },
    afterFit: s => { s.width = 227; s.paddingTop = 0; s.paddingBottom = 0; },
    grid: {color: '#333', lineWidth: 1.2, drawTicks: false, borderDash: [1.5, 12]},
    border: {display: false, dash: [1.5, 12]},
    ticks: {padding: 9, color: '#000', font: {size: 30}, callback: v => String(v)}
  };
  return new Chart(document.getElementById(id), {
    type: 'line',
    data: {datasets: cfg.datasets},
    plugins: [matlabAxes],
    options: {
      responsive: false, animation: false, devicePixelRatio: 1, events: [],
      layout: {padding: {top: 10, right: 11, left: 0, bottom: 0}},
      elements: {point: {radius: 0, hoverRadius: 0}, line: {tension: 0, borderJoinStyle: 'round', borderCapStyle: 'round'}},
      plugins: {
        legend: {display: false},
        tooltip: {enabled: false},
        title: {display: true, fullSize: false, text: cfg.title, color: '#000', font: {size: 30, weight: 'normal'}, padding: {top: 0, bottom: 14}},
        matlabAxes: {legendAt: cfg.legendAt}
      },
      scales: {x: xScale, y: yScale}
    }
  });
}

makeChart('c1', {
  title: 'Log likelihood', xTitle: 'Iteration', legendAt: 'bottom',
  xMin: 100, xMax: 2000, xTicks: iterTicks, yMin: 2520, yMax: 2580, yTicks: llTicks,
  datasets: [
    {label: seriesNames[0], data: evenSeries(llHmc, HMC_START, HMC_STEP), borderColor: '#ff0000', borderWidth: 1.6, fill: false},
    {label: seriesNames[1], data: heldSeries(gibbsLLLevels, gibbsLLDrops), borderColor: '#0000ff', borderWidth: 1.6, fill: false, stepped: true}
  ]
});
makeChart('c2', {
  title: 'Samples of first coefficient', xTitle: 'Iteration', legendAt: 'top',
  xMin: 100, xMax: 2000, xTicks: iterTicks, yMin: 7.3, yMax: 8.3, yTicks: coefTicks,
  datasets: [
    {label: seriesNames[0], data: evenSeries(coefHmc, HMC_START, HMC_STEP), borderColor: '#ff0000', borderWidth: 1.3, fill: false},
    {label: seriesNames[1], data: heldSeries(gibbsCoefLevels, gibbsCoefDips), borderColor: '#0000ff', borderWidth: 1.6, fill: false, stepped: true}
  ]
});
makeChart('c3', {
  title: 'ACF of first coefficient', xTitle: 'Lag', legendAt: 'top',
  xMin: 0, xMax: 1000, xTicks: lagTicks, yMin: -0.2, yMax: 1, yTicks: acfTicks,
  datasets: [
    {label: seriesNames[0], data: evenSeries(acfHmc, 0, ACF_STEP), borderColor: '#ff0000', borderWidth: 1.1, fill: false, order: 1},
    {label: seriesNames[1], data: pairSeries(acfGibbsLags, acfGibbsVals), borderColor: '#0000ff', borderWidth: 1.4, fill: false, order: 0}
  ]
});
</script>
</body>
</html>
